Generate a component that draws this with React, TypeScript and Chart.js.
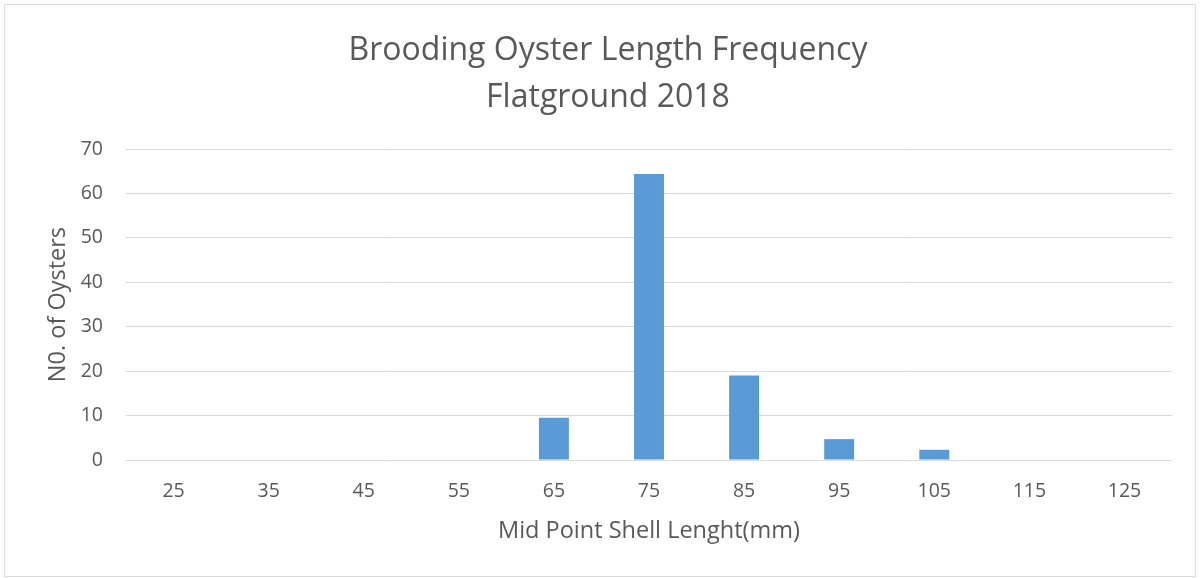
import React, { useEffect, useRef } from "react";
import { Chart, registerables } from "chart.js";

Chart.register(...registerables);

const categories = ["25", "35", "45", "55", "65", "75", "85", "95", "105", "115", "125"];
const oysterCounts = [0, 0, 0, 0, 9.5, 64.4, 19, 4.7, 2.3, 0, 0];
const titleLines = ["Brooding Oyster Length Frequency", "Flatground 2018"];
const xTitle = "Mid Point Shell Lenght(mm)";
const yTitle = "N0. of Oysters";

const FONT = "'Open Sans', Lato, sans-serif";
const TEXT = "#595959";
const GRID = "#d9d9d9";

const borderPlugin = {
  id: "outerBorder",
  beforeDraw(chart: any) {
    const ctx = chart.ctx;
    ctx.save();
    ctx.fillStyle = "#ffffff";
    ctx.fillRect(0, 0, chart.width, chart.height);
    ctx.strokeStyle = GRID;
    ctx.lineWidth = 1;
    ctx.strokeRect(4.5, 4.5, 1191, 572);
    ctx.restore();
  },
};

export default function App() {
  const ref = useRef<HTMLCanvasElement | null>(null);
  useEffect(() => {
    if (!ref.current) return;
    const chart = new Chart(ref.current, {
      type: "bar",
      data: {
        labels: categories,
        datasets: [
          {
            label: "Oysters",
            data: oysterCounts,
            backgroundColor: "#5b9bd5",
            categoryPercentage: 1,
            barPercentage: 0.315,
          },
        ],
      },
      plugins: [borderPlugin],
      options: {
        animation: false,
        responsive: false,
        layout: { padding: { left: 44, right: 28, top: 0, bottom: 0 } },
        plugins: {
          legend: { display: false },
          tooltip: { enabled: false },
          title: {
            display: true,
            text: titleLines,
            color: TEXT,
            font: { family: FONT, size: 32, weight: "normal", lineHeight: 1.47 },
            padding: { top: 27, bottom: 28 },
          },
        },
        scales: {
          x: {
            grid: { display: false, drawTicks: false },
            border: { display: false },
            ticks: { color: TEXT, font: { family: FONT, size: 19.5 }, padding: 20, maxRotation: 0 },
            title: {
              display: true,
              text: xTitle,
              color: TEXT,
              font: { family: FONT, size: 23.5 },
              padding: { top: 0, bottom: 33 },
            },
            afterFit(scale: any) {
              scale.height = 118;
            },
          },
          y: {
            min: 0,
            max: 70,
            ticks: { stepSize: 10, color: TEXT, font: { family: FONT, size: 19.5 }, padding: 23 },
            grid: { color: GRID, lineWidth: 1, drawTicks: false },
            border: { display: false },
            title: {
              display: true,
              text: yTitle,
              color: TEXT,
              font: { family: FONT, size: 23.5 },
              padding: { top: 0, bottom: 0 },
            },
            afterFit(scale: any) {
              scale.width = 82;
            },
          },
        },
      },
    } as any);
    return () => chart.destroy();
  }, []);
  return (
    <div style={{ position: "absolute", left: 0, top: 0, width: 1200, height: 578 }}>
      <canvas ref={ref} width={1200} height={578} style={{ display: "block" }} />
    </div>
  );
}
